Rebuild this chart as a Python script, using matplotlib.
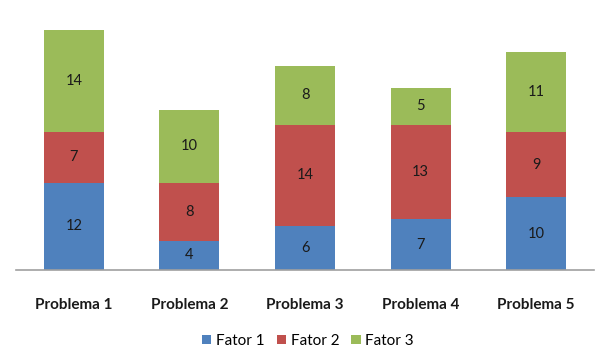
import matplotlib
matplotlib.use("Agg")
import matplotlib.pyplot as plt
import numpy as np

plt.rcParams['font.family'] = ['Lato', 'DejaVu Sans']

categories = ["Problema 1", "Problema 2", "Problema 3", "Problema 4", "Problema 5"]
series_names = ["Fator 1", "Fator 2", "Fator 3"]
fator1 = [12, 4, 6, 7, 10]
fator2 = [7, 8, 14, 13, 9]
fator3 = [14, 10, 8, 5, 11]
colors = ["#4F81BD", "#C0504D", "#9BBB59"]

fig = plt.figure(figsize=(6.11, 3.59), dpi=100)
ax = fig.add_axes([16/611, 1-270/359, 578/611, 240/359])

x = np.arange(len(categories))
bottom = np.zeros(len(categories))
for name, vals, c in zip(series_names, [fator1, fator2, fator3], colors):
    vals = np.array(vals, dtype=float)
    ax.bar(x, vals, width=0.52, bottom=bottom, color=c, label=name, zorder=2)
    for xi, b, v in zip(x, bottom, vals):
        ax.text(xi, b + v/2, f"{int(v)}", ha='center', va='center', fontsize=10.5, color='#1a1a1a')
    bottom += vals

ax.set_xlim(-0.5, 4.5)
ax.set_ylim(0, 33)
for s in ['top', 'right', 'left']:
    ax.spines[s].set_visible(False)
ax.spines['bottom'].set_color('#a0a0a0')
ax.spines['bottom'].set_linewidth(1.2)
ax.set_yticks([])
ax.set_xticks(x)
ax.set_xticklabels(categories, fontsize=11, fontweight='bold', color='#1a1a1a')
ax.tick_params(axis='x', length=0, pad=20)

leg = fig.legend(loc='center', bbox_to_anchor=(308/611, 1-341/359), ncol=3, frameon=False,
                 fontsize=11, handlelength=0.6, handleheight=0.6, handletextpad=0.3, columnspacing=0.8)

fig.savefig("out.png", dpi=100)
